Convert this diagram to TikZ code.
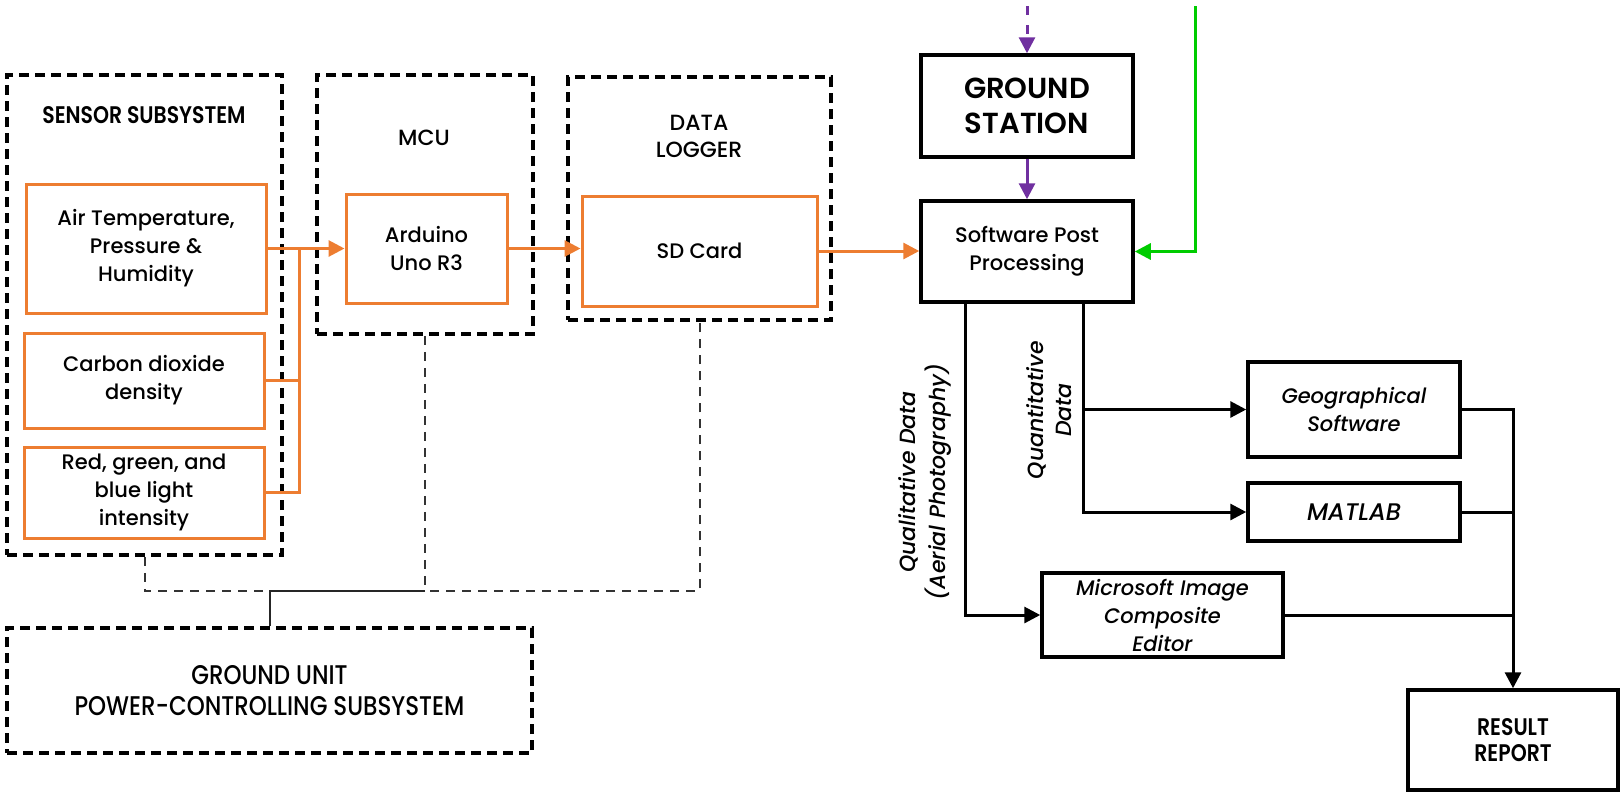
\documentclass[tikz,border=0pt]{standalone}
\usepackage{fontspec}
\IfFontExistsTF{Poppins Medium}{%
  \setmainfont{Poppins Medium}%
  \newfontfamily\condmed{Poppins Medium}[FakeStretch=0.85]%
}{%
  \setmainfont{Poppins}%
  \newfontfamily\condmed{Poppins}[FakeStretch=0.85]%
}
\IfFontExistsTF{Poppins SemiBold}{%
  \newfontfamily\semifont{Poppins SemiBold}%
  \newfontfamily\condsemi{Poppins SemiBold}[FakeStretch=0.85]%
}{%
  \newfontfamily\semifont{Poppins}[UprightFont=*-Bold]%
  \newfontfamily\condsemi{Poppins}[FakeStretch=0.85,UprightFont=*-Bold]%
}
\IfFontExistsTF{Poppins Medium Italic}{%
  \newfontfamily\itfont{Poppins Medium Italic}%
}{%
  \newfontfamily\itfont{Poppins Italic}%
}
\usetikzlibrary{arrows.meta}
\definecolor{orng}{HTML}{ED7D31}
\definecolor{purp}{HTML}{7030A0}
\definecolor{grn}{HTML}{00CC00}
\newcommand\bodyf{\fontsize{21}{28}\selectfont}
\newcommand\itbodyf{\itfont\fontsize{21}{28}\selectfont}
\begin{document}
\begin{tikzpicture}[x=1pt,y=-1pt,
  gbox/.style={draw=black, line width=3.5pt, dash pattern=on 10pt off 6pt, inner sep=0pt},
  obox/.style={draw=orng, line width=3pt, align=center, inner sep=0pt, font=\bodyf},
  bbox/.style={draw=black, line width=3.5pt, align=center, inner sep=0pt, font=\bodyf},
  ibox/.style={bbox, font=\itbodyf},
  ttl/.style={align=center, inner sep=0pt},
  oline/.style={draw=orng, line width=3pt},
  oarr/.style={oline, -{Triangle[length=16pt,width=16pt]}},
  bline/.style={draw=black, line width=3pt},
  barr/.style={bline, -{Triangle[length=16pt,width=16pt]}},
  parr/.style={draw=purp, line width=3pt, -{Triangle[length=16pt,width=16pt]}},
  garr/.style={draw=grn, line width=3pt, -{Triangle[length=16pt,width=16pt]}},
  dline/.style={draw=black!80, line width=2pt, dash pattern=on 9pt off 7pt},
  sline/.style={draw=black!85, line width=2pt},
]
\useasboundingbox (0,0) rectangle (1620,793);

% group boxes
\node[gbox, minimum width=275, minimum height=480] (sens) at (144.5,315) {};
\node[gbox, minimum width=216, minimum height=259] (mcu) at (425,204.5) {};
\node[gbox, minimum width=263, minimum height=243] (dl) at (699.5,198.5) {};
\node[gbox, minimum width=525, minimum height=125, align=center,
      font={\condmed\fontsize{27}{31}\selectfont}] (pwr) at (269.5,690.5)
      {GROUND UNIT\\POWER-CONTROLLING SUBSYSTEM};

% titles
\node[ttl, font={\condsemi\fontsize{24}{28}\selectfont}] (senst) at (144,115) {SENSOR SUBSYSTEM};
\node[ttl, font={\fontsize{22}{28}\selectfont}] (mcut) at (424,138) {MCU};
\node[ttl, font={\fontsize{22}{27}\selectfont}] (dlt) at (699,136.5) {DATA\\LOGGER};

% orange boxes
\node[obox, minimum width=240, minimum height=129] (air) at (146,248.5) {Air Temperature,\\Pressure \&\\Humidity};
\node[obox, minimum width=240, minimum height=95] (co2) at (144,380.5) {Carbon dioxide\\density};
\node[obox, minimum width=240, minimum height=91] (rgb) at (144,492.5) {Red, green, and\\blue light\\intensity};
\node[obox, minimum width=161, minimum height=109] (ard) at (426.5,248.5) {Arduino\\Uno R3};
\node[obox, minimum width=235, minimum height=110] (sd) at (699.5,251) {SD Card};

% black boxes
\node[bbox, minimum width=212, minimum height=102, font={\semifont\fontsize{29}{35}\selectfont}] (gs) at (1027,106) {GROUND\\STATION};
\node[bbox, minimum width=212, minimum height=101] (spp) at (1027,251.5) {Software Post\\Processing};
\node[ibox, minimum width=212, minimum height=95] (geo) at (1354,409.5) {Geographical\\Software};
\node[ibox, minimum width=212, minimum height=58, font={\itfont\fontsize{24}{28}\selectfont}] (mat) at (1354,512) {MATLAB};
\node[ibox, minimum width=241, minimum height=84] (ice) at (1162.5,615) {Microsoft Image\\Composite\\Editor};
\node[bbox, minimum width=210, minimum height=100, font={\condsemi\fontsize{24}{26}\selectfont}] (res) at (1513,740) {RESULT\\REPORT};

% rotated labels
\node[ttl, rotate=90, font={\itfont\fontsize{22}{30}\selectfont}] (qual) at (925,482) {Qualitative Data\\(Aerial Photography)};
\node[ttl, rotate=90, font={\itfont\fontsize{22}{28}\selectfont}] (quant) at (1049,410) {Quantitative\\Data};

% orange connectors
\coordinate (bus) at (299,248.5);
\draw[oarr] (air.east) -- (ard.west);
\draw[oline] (co2.east) -| (bus);
\draw[oline] (rgb.east) -| (bus);
\draw[oarr] (ard.east) -- (ard.east -| sd.west);
\draw[oarr] (sd.east) -- (sd.east -| spp.west);

% purple / green
\coordinate (ptop) at (1027,6);
\draw[parr, dash pattern=on 9pt off 10pt] (ptop) -- (gs.north);
\draw[parr] (gs.south) -- (spp.north);
\coordinate (gtop) at (1195,6);
\draw[garr] (gtop) |- (spp.east);

% black connectors
\draw[barr] ([xshift=46pt]spp.south west) |- (ice.west);
\draw[barr] ([xshift=-51pt]spp.south east) |- (geo.west);
\draw[barr] ([xshift=-51pt]spp.south east) |- (mat.west);
\draw[barr] (geo.east) -| (res.north);
\draw[bline] (mat.east) -- (mat.east -| res.north);
\draw[bline] (ice.east) -- (ice.east -| res.north);

% power connections
\coordinate (bj) at (425,591);
\draw[dline] (sens.south) |- (bj) -| (dl.south);
\draw[dline] (mcu.south) -- (bj);
\draw[sline] (bj) -| (pwr.north);
\end{tikzpicture}
\end{document}
